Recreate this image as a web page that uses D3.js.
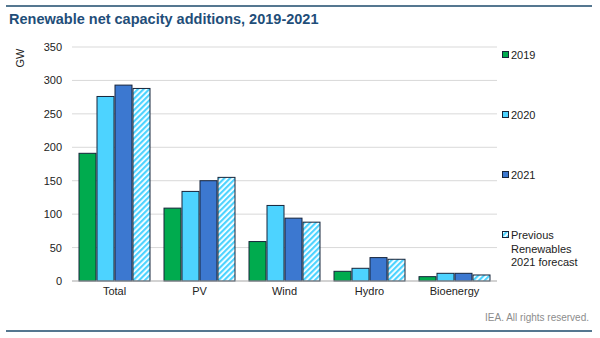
<!DOCTYPE html>
<html>
<head>
<meta charset="utf-8">
<script src="https://cdn.jsdelivr.net/npm/d3@7"></script>
<style>
  html, body { margin: 0; padding: 0; background: #fff; }
  svg { display: block; font-family: Arial, "Liberation Sans", sans-serif; }
</style>
</head>
<body>
<svg id="chart" width="600" height="338"></svg>
<script>
// Technologies on the x axis
const categories = ["Total", "PV", "Wind", "Hydro", "Bioenergy"];
// Series (GW of net capacity additions)
const seriesNames = ["2019", "2020", "2021", "Previous Renewables 2021 forecast"];
const values2019 = [191, 109, 59, 14.5, 6.5];
const values2020 = [276, 134, 113, 19, 11.5];
const values2021 = [293, 150, 94, 35, 11.5];
const valuesPrevForecast = [288, 155, 88, 32.5, 9];
const yTicks = [0, 50, 100, 150, 200, 250, 300, 350];

const seriesValues = [values2019, values2020, values2021, valuesPrevForecast];
const fills = ["#00ab4e", "#4dd3ff", "#3c78d0", "url(#hatch)"];

const svg = d3.select("#chart");

// Diagonal hatch used for the previous-forecast bars
const defs = svg.append("defs");
const pat = defs.append("pattern")
  .attr("id", "hatch")
  .attr("patternUnits", "userSpaceOnUse")
  .attr("width", 4).attr("height", 4)
  .attr("patternTransform", "rotate(45)");
pat.append("rect").attr("width", 4).attr("height", 4).attr("fill", "#ffffff");
pat.append("rect").attr("width", 2.2).attr("height", 4).attr("fill", "#4dd3ff");

// Frame rules
svg.append("line").attr("x1", 6).attr("x2", 592).attr("y1", 6).attr("y2", 6)
  .attr("stroke", "#1d4a6b").attr("stroke-width", 1.5);
svg.append("line").attr("x1", 6).attr("x2", 592).attr("y1", 331).attr("y2", 331)
  .attr("stroke", "#1d4a6b").attr("stroke-width", 1.5);

// Title
svg.append("text")
  .attr("x", 9).attr("y", 24)
  .attr("fill", "#1f4e79")
  .attr("font-size", 14.5).attr("font-weight", "bold")
  .text("Renewable net capacity additions, 2019-2021");

const margin = { left: 72, right: 497, top: 47, bottom: 281 };

const x0 = d3.scaleBand().domain(categories)
  .range([margin.left, margin.right]).paddingInner(0.153).paddingOuter(0.0765);
const x1 = d3.scaleBand().domain(d3.range(seriesNames.length))
  .range([0, x0.bandwidth()]).padding(0);
const y = d3.scaleLinear().domain([0, 350]).range([margin.bottom, margin.top]);

// Gridlines
svg.append("g").selectAll("line").data(yTicks.filter(d => d > 0)).join("line")
  .attr("x1", margin.left).attr("x2", margin.right)
  .attr("y1", d => y(d)).attr("y2", d => y(d))
  .attr("stroke", "#d9d9d9").attr("stroke-width", 1);

// Y axis labels
const yAxis = d3.axisLeft(y).tickValues(yTicks).tickSize(0).tickPadding(0);
const yg = svg.append("g").attr("transform", `translate(${margin.left - 10},0)`).call(yAxis);
yg.select(".domain").remove();
yg.selectAll("text").attr("font-size", 11).attr("fill", "#222")
  .attr("font-family", "Arial, 'Liberation Sans', sans-serif");

svg.append("text")
  .attr("transform", `translate(24,58) rotate(-90)`)
  .attr("text-anchor", "middle")
  .attr("font-size", 11).attr("fill", "#222")
  .text("GW");

// Bars
const groups = svg.append("g").selectAll("g").data(categories).join("g")
  .attr("transform", d => `translate(${x0(d)},0)`);
groups.selectAll("rect")
  .data((c, ci) => seriesValues.map((vals, si) => ({ si, v: vals[ci] })))
  .join("rect")
  .attr("x", d => x1(d.si) + 0.5)
  .attr("width", x1.bandwidth() - 1)
  .attr("y", d => y(d.v))
  .attr("height", d => y(0) - y(d.v))
  .attr("fill", d => fills[d.si])
  .attr("stroke", "#16243a").attr("stroke-width", 1);

// Baseline
svg.append("line").attr("x1", margin.left).attr("x2", margin.right)
  .attr("y1", y(0)).attr("y2", y(0))
  .attr("stroke", "#a6a6a6").attr("stroke-width", 1.2);

// X axis labels
const xAxis = d3.axisBottom(x0).tickSize(0).tickPadding(0);
const xg = svg.append("g").attr("transform", `translate(0,${y(0) + 6})`).call(xAxis);
xg.select(".domain").remove();
xg.selectAll("text").attr("font-size", 11).attr("fill", "#222")
  .attr("font-family", "Arial, 'Liberation Sans', sans-serif");

// Legend
const legendLines = [["2019"], ["2020"], ["2021"], ["Previous", "Renewables", "2021 forecast"]];
const legend = svg.append("g").selectAll("g").data(seriesNames).join("g")
  .attr("transform", (d, i) => `translate(502,${55 + i * 60})`);
legend.append("rect")
  .attr("x", 0.5).attr("y", -3.5).attr("width", 6).attr("height", 6)
  .attr("fill", (d, i) => fills[i]).attr("stroke", "#16243a").attr("stroke-width", 1);
legend.append("text")
  .attr("x", 9).attr("y", 4)
  .attr("font-size", 11).attr("fill", "#222")
  .selectAll("tspan").data((d, i) => legendLines[i]).join("tspan")
  .attr("x", 9).attr("dy", (d, j) => j === 0 ? 0 : 13.5)
  .text(d => d);

// Footer
svg.append("text")
  .attr("x", 589).attr("y", 321)
  .attr("text-anchor", "end")
  .attr("font-size", 10).attr("fill", "#8c8c8c")
  .text("IEA. All rights reserved.");
</script>
</body>
</html>
